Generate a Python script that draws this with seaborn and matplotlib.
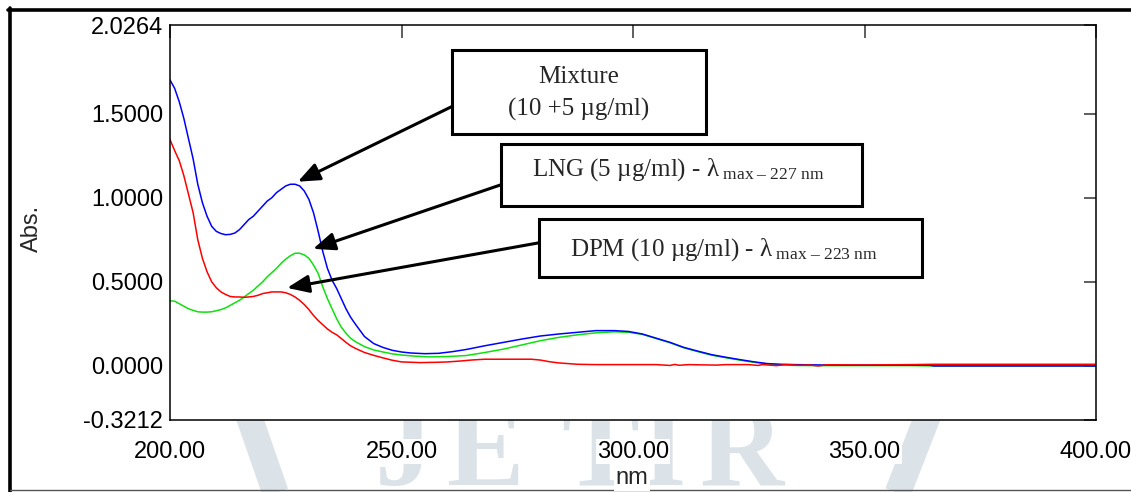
import numpy as np
import pandas as pd
import seaborn as sns
import matplotlib
matplotlib.use("Agg")
import matplotlib.pyplot as plt
from matplotlib.lines import Line2D
from matplotlib.patches import Rectangle

# ---------------- data ----------------
mix_nm = [200, 201, 202, 203, 204, 205, 206, 207, 208, 209, 210, 211, 212, 213, 214, 215,
          216, 217, 218, 219, 220, 221, 222, 223, 224, 225, 226, 227, 228, 229, 230, 231,
          232, 233, 234, 235, 236, 237, 238, 239, 240, 242, 244, 246, 248, 250, 252, 255,
          258, 261, 264, 268, 272, 276, 280, 284, 288, 292, 296, 299, 302, 305, 308, 311,
          314, 317, 320, 323, 326, 329, 332, 335, 340, 345, 350, 355, 360, 364, 365, 370,
          380, 390, 400]
mix_abs = [1.70, 1.65, 1.57, 1.47, 1.35, 1.23, 1.08, 0.97, 0.89, 0.83, 0.80, 0.787, 0.78,
           0.782, 0.79, 0.81, 0.84, 0.87, 0.89, 0.92, 0.95, 0.98, 1.00, 1.03, 1.05, 1.07,
           1.08, 1.08, 1.07, 1.04, 0.99, 0.91, 0.80, 0.68, 0.58, 0.51, 0.46, 0.40, 0.34,
           0.29, 0.25, 0.175, 0.133, 0.11, 0.093, 0.083, 0.077, 0.073, 0.075, 0.085, 0.098,
           0.12, 0.14, 0.16, 0.178, 0.19, 0.20, 0.21, 0.21, 0.205, 0.19, 0.165, 0.14, 0.11,
           0.088, 0.067, 0.052, 0.038, 0.025, 0.014, 0.010, 0.008, 0.006, 0.005, 0.005,
           0.005, 0.005, 0.005, 0.0, 0.0, 0.0, 0.0, 0.0]

lng_nm = [200, 201, 202, 203, 204, 205, 206, 207, 208, 209, 210, 211, 212, 213, 214, 215,
          216, 217, 218, 219, 220, 221, 222, 223, 224, 225, 226, 227, 228, 229, 230, 231,
          232, 233, 234, 235, 236, 237, 238, 239, 240, 242, 244, 246, 248, 250, 253, 256,
          260, 264, 268, 272, 276, 280, 284, 288, 292, 296, 299, 302, 305, 308, 311, 314,
          317, 320, 323, 326, 329, 332, 335, 340, 350, 360, 365, 400]
lng_abs = [0.387, 0.385, 0.37, 0.355, 0.34, 0.33, 0.322, 0.32, 0.32, 0.322, 0.328, 0.335,
           0.345, 0.36, 0.375, 0.39, 0.41, 0.43, 0.45, 0.475, 0.50, 0.53, 0.555, 0.58,
           0.61, 0.635, 0.655, 0.67, 0.67, 0.66, 0.64, 0.60, 0.55, 0.47, 0.40, 0.34, 0.28,
           0.23, 0.195, 0.165, 0.145, 0.115, 0.095, 0.083, 0.072, 0.065, 0.058, 0.054,
           0.056, 0.062, 0.08, 0.10, 0.125, 0.15, 0.17, 0.185, 0.197, 0.203, 0.20, 0.188,
           0.163, 0.138, 0.108, 0.085, 0.064, 0.049, 0.035, 0.022, 0.012, 0.006, 0.003,
           0.002, 0.002, 0.002, 0.0, 0.0]

dpm_nm = [200, 201, 202, 203, 204, 205, 206, 207, 208, 209, 210, 211, 212, 213, 214, 215,
          216, 217, 218, 219, 220, 221, 222, 223, 224, 225, 226, 227, 228, 229, 230, 231,
          232, 233, 234, 235, 236, 237, 238, 239, 240, 242, 244, 246, 248, 250, 254, 258,
          260, 263, 265, 268, 272, 278, 280, 282, 284, 288, 292, 300, 305, 308, 309, 310,
          312, 318, 320, 325, 327, 328, 331, 333, 336, 338, 340, 342, 350, 360, 365, 400]
dpm_abs = [1.345, 1.28, 1.22, 1.13, 1.02, 0.91, 0.75, 0.64, 0.56, 0.50, 0.465, 0.44, 0.425,
           0.413, 0.41, 0.41, 0.408, 0.41, 0.413, 0.42, 0.43, 0.435, 0.44, 0.44, 0.44,
           0.435, 0.425, 0.41, 0.39, 0.365, 0.335, 0.30, 0.27, 0.245, 0.22, 0.20, 0.185,
           0.163, 0.14, 0.12, 0.105, 0.08, 0.063, 0.048, 0.034, 0.024, 0.02, 0.022, 0.024,
           0.03, 0.035, 0.04, 0.04, 0.04, 0.035, 0.025, 0.018, 0.01, 0.008, 0.008, 0.008,
           0.003, 0.009, 0.004, 0.008, 0.005, 0.008, 0.008, 0.003, 0.008, 0.002, 0.008,
           0.004, 0.006, 0.0, 0.007, 0.006, 0.008, 0.01, 0.01]

x_ticks = [200, 250, 300, 350, 400]
x_tick_labels = ["200.00", "250.00", "300.00", "350.00", "400.00"]
y_ticks = [-0.3212, 0.0, 0.5, 1.0, 1.5, 2.0264]
y_tick_labels = ["-0.3212", "0.0000", "0.5000", "1.0000", "1.5000", "2.0264"]

df = pd.concat([
    pd.DataFrame({"nm": lng_nm, "Abs": lng_abs, "series": "LNG"}),
    pd.DataFrame({"nm": mix_nm, "Abs": mix_abs, "series": "Mixture"}),
    pd.DataFrame({"nm": dpm_nm, "Abs": dpm_abs, "series": "DPM"}),
], ignore_index=True)

# ---------------- style ----------------
sns.set_theme(style="white")
plt.rcParams["font.family"] = ["Liberation Sans", "DejaVu Sans"]
plt.rcParams["mathtext.fontset"] = "custom"
plt.rcParams["mathtext.rm"] = "Liberation Serif"
plt.rcParams["mathtext.it"] = "Liberation Serif:italic"

W, H = 1131, 492
fig = plt.figure(figsize=(W / 100, H / 100), dpi=100)
fig.patch.set_facecolor("white")

def fx(px):
    return px / W

def fy(py):
    return 1 - py / H

ax = fig.add_axes([fx(170), fy(420), fx(1096) - fx(170), fy(25) - fy(420)])
ax.set_facecolor("white")

palette = {"LNG": "#10e010", "Mixture": "#0000ff", "DPM": "#ff0000"}
sns.lineplot(data=df, x="nm", y="Abs", hue="series", palette=palette, ax=ax,
             linewidth=1.1, legend=False, estimator=None, sort=False)

ax.set_xlim(200, 400)
ax.set_ylim(-0.3212, 2.0264)
ax.set_xticks(x_ticks)
ax.set_xticklabels(x_tick_labels)
ax.set_yticks(y_ticks)
ax.set_yticklabels(y_tick_labels)
ax.tick_params(axis="both", direction="in", length=9, width=1.1, color="#333333",
               labelsize=17, labelcolor="black", top=True, right=True)
ax.tick_params(axis="x", pad=15)
ax.tick_params(axis="y", pad=5)
for sp in ax.spines.values():
    sp.set_color("black")
    sp.set_linewidth(1.1)

for lbl in ax.get_xticklabels():
    lbl.set_bbox(dict(facecolor="white", edgecolor="none", pad=1))

ax.set_xlabel("nm", fontsize=17, va="center",
              bbox=dict(facecolor="white", edgecolor="none", pad=1))
ax.xaxis.set_label_coords(0.499, -0.148)
ax.set_ylabel("Abs.", fontsize=17, va="center")
ax.yaxis.set_label_coords(-0.149, 0.486)

# ---------------- annotations ----------------
serif = ["Liberation Serif", "DejaVu Serif"]
arrowprops = dict(arrowstyle="-|>,head_length=1.1,head_width=0.45", color="black",
                  lw=2.2, shrinkA=0, shrinkB=0)

def box(x0, y0, x1, y1):
    ax.add_patch(Rectangle((x0, y1), x1 - x0, y0 - y1, facecolor="white",
                           edgecolor="black", lw=2.2, zorder=5, clip_on=False))

# Mixture
box(260.9, 1.875, 315.8, 1.381)
ax.text(288.3, 1.72, "Mixture", family=serif, fontsize=18, ha="center", va="center", zorder=6)
ax.text(288.3, 1.525, "(10 +5 µg/ml)", family=serif, fontsize=18, ha="center", va="center", zorder=6)
ax.annotate("", xy=(227.6, 1.095), xytext=(260.9, 1.542), arrowprops=arrowprops, zorder=6)

# LNG
box(271.5, 1.321, 349.5, 0.952)
ax.text(278.2, 1.13, "LNG (5 µg/ml) - λ$_{\\mathrm{\\ max\\ –\\ 227\\ nm}}$", family=serif,
        fontsize=18, ha="left", va="baseline", zorder=6)
ax.annotate("", xy=(230.9, 0.696), xytext=(271.5, 1.077), arrowprops=arrowprops, zorder=6)

# DPM
box(279.7, 0.875, 362.4, 0.530)
ax.text(286.5, 0.655, "DPM (10 µg/ml) - λ$_{\\mathrm{\\ max\\ –\\ 223\\ nm}}$", family=serif,
        fontsize=18, ha="left", va="baseline", zorder=6)
ax.annotate("", xy=(225.3, 0.464), xytext=(279.7, 0.732), arrowprops=arrowprops, zorder=6)

# ---------------- watermark & frame ----------------
wm = "#dce3e8"
for ch, px in zip("JETIR", [404, 485, 600, 663, 742]):
    fig.text(fx(px), fy(485), ch, family=serif, fontweight="bold", fontsize=84,
             color=wm, ha="center", va="baseline", zorder=-2)
fig.add_artist(Line2D([fx(245), fx(278)], [fy(405), fy(500)], color=wm, lw=19,
                      solid_capstyle="butt", zorder=-2))
fig.add_artist(Line2D([fx(932), fx(895)], [fy(405), fy(500)], color=wm, lw=19,
                      solid_capstyle="butt", zorder=-2))

fig.add_artist(Line2D([fx(8), fx(1131)], [fy(9.5), fy(9.5)], color="black", lw=2.6, zorder=-1))
fig.add_artist(Line2D([fx(9.5), fx(9.5)], [fy(8), fy(492)], color="black", lw=2.6, zorder=-1))
fig.add_artist(Line2D([fx(9.5), fx(1131)], [fy(490), fy(490)], color="#555555", lw=1.0, zorder=-1))

fig.savefig("out.png", dpi=100)
